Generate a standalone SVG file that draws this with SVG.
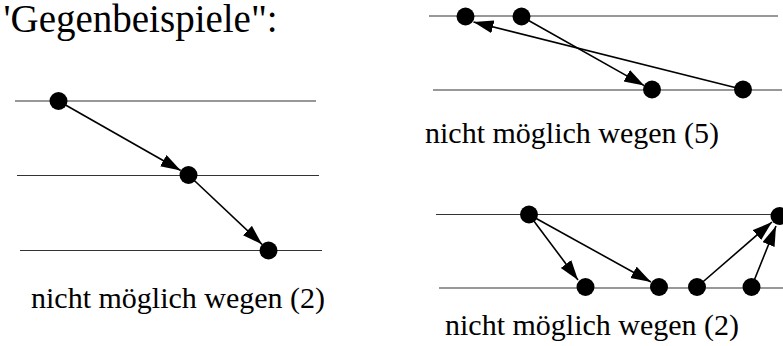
<svg xmlns="http://www.w3.org/2000/svg" width="783" height="346" viewBox="0 0 783 346">
<style>
.t{font-family:'Liberation Serif','Times New Roman',Times,serif;fill:#000}
.lbl{font-size:30px}
.ttl{font-size:39px}
.rule{stroke:#333;stroke-width:1.2;fill:none}
.arr{stroke:#000;stroke-width:1.6;fill:none;marker-end:url(#ah)}
.dot{fill:#000}
</style>
<defs>
<marker id="ah" markerUnits="userSpaceOnUse" markerWidth="22" markerHeight="14" refX="20" refY="6.5" orient="auto">
<path d="M0,0 L20,6.5 L0,13 z" fill="#000"/>
</marker>
</defs>
<text id="title" class="t ttl" x="3.5" y="32">'Gegenbeispiele":</text>
<g id="rules">
<line class="rule" x1="15" y1="101" x2="316" y2="101"/>
<line class="rule" x1="17" y1="175.5" x2="319" y2="175.5"/>
<line class="rule" x1="20" y1="250.5" x2="322" y2="250.5"/>
<line class="rule" x1="429" y1="16" x2="778" y2="16"/>
<line class="rule" x1="433" y1="90" x2="782" y2="90"/>
<line class="rule" x1="436" y1="214.5" x2="783" y2="214.5"/>
<line class="rule" x1="439" y1="288" x2="783" y2="288"/>
</g>
<g id="connectors">
<line class="arr" x1="58.5" y1="101" x2="180.7" y2="170.5"/>
<line class="arr" x1="188.5" y1="175" x2="262" y2="244.3"/>
<line class="arr" x1="521.5" y1="16.5" x2="644.2" y2="85.6"/>
<line class="arr" x1="743" y1="89.5" x2="473.5" y2="22"/>
<line class="arr" x1="529" y1="214.5" x2="578" y2="280"/>
<line class="arr" x1="529" y1="214.5" x2="651" y2="282"/>
<line class="arr" x1="697" y1="287" x2="772" y2="222"/>
<line class="arr" x1="751.5" y1="287" x2="776" y2="226"/>
</g>
<g id="n1"><circle class="dot" cx="58.5" cy="101" r="9"/></g>
<g id="n2"><circle class="dot" cx="188.5" cy="175" r="9"/></g>
<g id="n3"><circle class="dot" cx="268.5" cy="250.5" r="9"/></g>
<g id="n4"><circle class="dot" cx="465.5" cy="16.5" r="9"/></g>
<g id="n5"><circle class="dot" cx="521.5" cy="16.5" r="9"/></g>
<g id="n6"><circle class="dot" cx="652" cy="89.5" r="9"/></g>
<g id="n7"><circle class="dot" cx="743" cy="89.5" r="9"/></g>
<g id="n8"><circle class="dot" cx="529" cy="214.5" r="9"/></g>
<g id="n9"><circle class="dot" cx="779.5" cy="216" r="9"/></g>
<g id="n10"><circle class="dot" cx="585.5" cy="287" r="9"/></g>
<g id="n11"><circle class="dot" cx="659" cy="287" r="9"/></g>
<g id="n12"><circle class="dot" cx="697" cy="287" r="9"/></g>
<g id="n13"><circle class="dot" cx="751.5" cy="287" r="9"/></g>
<text id="lbl1" class="t lbl" x="31" y="308">nicht möglich wegen (2)</text>
<text id="lbl2" class="t lbl" x="425" y="143">nicht möglich wegen (5)</text>
<text id="lbl3" class="t lbl" x="445" y="335">nicht möglich wegen (2)</text>
</svg>
